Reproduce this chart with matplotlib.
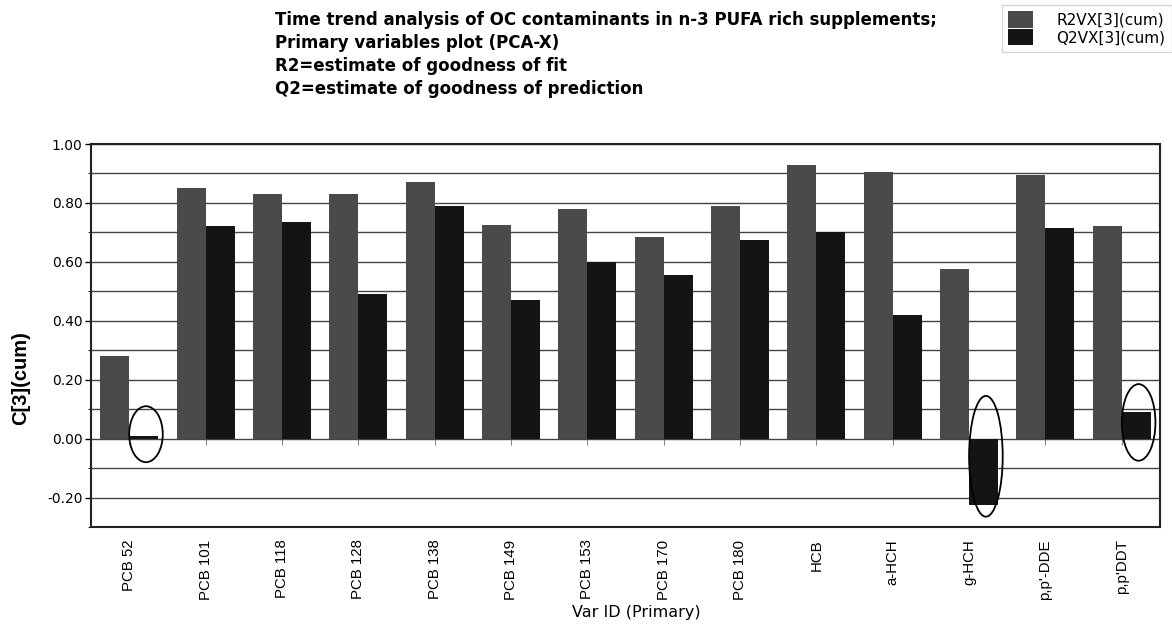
import matplotlib.pyplot as plt
from matplotlib.patches import Ellipse
from matplotlib.ticker import MultipleLocator
import numpy as np

plt.rcParams['font.family'] = ['Liberation Sans', 'DejaVu Sans']

# data
variables = ['PCB 52', 'PCB 101', 'PCB 118', 'PCB 128', 'PCB 138', 'PCB 149', 'PCB 153',
             'PCB 170', 'PCB 180', 'HCB', 'a-HCH', 'g-HCH', "p,p'-DDE", "p,p'DDT"]
r2vx = [0.28, 0.85, 0.83, 0.83, 0.87, 0.725, 0.78, 0.685, 0.79, 0.93, 0.905, 0.575, 0.895, 0.72]
q2vx = [0.01, 0.72, 0.735, 0.49, 0.79, 0.47, 0.60, 0.555, 0.675, 0.70, 0.42, -0.225, 0.715, 0.09]
# Q2 bars circled in the original figure: (variable, ellipse centre, ellipse height)
circled = [('PCB 52', 0.015, 0.19), ('g-HCH', -0.06, 0.41), ("p,p'DDT", 0.055, 0.26)]

x = np.arange(len(variables))
w = 0.38
wide = 'DejaVu Sans'  # the reference text is stretched sideways, DejaVu is wider than Arial

fig = plt.figure(figsize=(11.72, 6.24), dpi=100)
ax = fig.add_axes([91 / 1172, 1 - 527 / 624, (1160 - 91) / 1172, (527 - 144) / 624])

ax.bar(x - w / 2, r2vx, width=w, color='#4a4a4a', label='R2VX[3](cum)', zorder=3)
ax.bar(x + w / 2, q2vx, width=w, color='#141414', label='Q2VX[3](cum)', zorder=3)

ax.set_xlim(-0.5, len(variables) - 0.5)
ax.set_ylim(-0.3, 1.0)
ax.yaxis.set_major_locator(MultipleLocator(0.2))
ax.yaxis.set_minor_locator(MultipleLocator(0.1))
ax.yaxis.set_major_formatter(lambda v, p: f'{v:.2f}')
ax.grid(axis='y', which='both', color='#444444', linewidth=1.0, zorder=1)
ax.tick_params(axis='y', which='major', length=4, width=1, pad=2)
ax.tick_params(axis='y', which='minor', length=2)
for lbl in ax.get_yticklabels():
    lbl.set_fontfamily(wide)
    lbl.set_fontsize(10)
ax.set_xticks(x)
ax.set_xticklabels(variables, rotation=90, fontsize=10.8)
ax.tick_params(axis='x', length=0, pad=9)
for s in ax.spines.values():
    s.set_linewidth(1.5)
    s.set_color('#222222')

# small ticks on the zero line
zero_axis = ax.secondary_xaxis(0.3 / 1.3)
zero_axis.set_xticks(x)
zero_axis.tick_params(length=4, color='#888888', labelbottom=False)
zero_axis.spines['bottom'].set_visible(False)

ax.set_ylabel('C[3](cum)', fontsize=14.5, fontweight='bold')
ax.yaxis.set_label_coords(-0.057, 0.39)
ax.set_xlabel('Var ID (Primary)', fontsize=11.5, family=wide)
ax.xaxis.set_label_coords((636 - 91) / 1069, -(612 - 527) / 383)
ax.xaxis.label.set_va('center')

# ellipses around the circled Q2 bars
for name, yc, h in circled:
    i = variables.index(name)
    ax.add_patch(Ellipse((i + w / 2 + 0.03, yc), width=0.44, height=h,
                         fill=False, edgecolor='black', linewidth=1.3, zorder=4))

fig.text(275 / 1172, 1 - 11 / 624,
         'Time trend analysis of OC contaminants in n-3 PUFA rich supplements;\n'
         'Primary variables plot (PCA-X)\n'
         'R2=estimate of goodness of fit\n'
         'Q2=estimate of goodness of prediction',
         ha='left', va='top', fontsize=12, fontweight='bold', family=wide, linespacing=1.36)

fig.legend(loc='upper left', bbox_to_anchor=(1002 / 1172, 1 - 5 / 624),
           prop={'family': wide, 'size': 11}, frameon=True,
           fancybox=False, edgecolor='#cccccc', handlelength=1.63, handleheight=1.3,
           borderpad=0.42, labelspacing=0.05, handletextpad=1.5, borderaxespad=0)

fig.savefig('out.png', dpi=100)
